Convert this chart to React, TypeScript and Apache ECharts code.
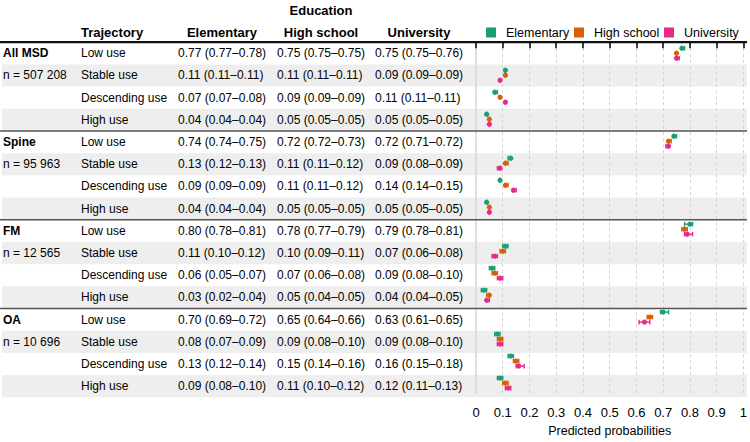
import React, { useEffect, useRef } from "react";
import * as echarts from "echarts";

// Row labels of the table
const groups = ["All MSD", "Spine", "FM", "OA"];
const groupSizes = ["n = 507 208", "n = 95 963", "n = 12 565", "n = 10 696"];
const trajectories = ["Low use", "Stable use", "Descending use", "High use"];
const educationLevels = ["Elementary", "High school", "University"];

// Predicted probabilities with 95% CI, rows ordered group by group, trajectory by trajectory
const elementaryEst = [0.77, 0.11, 0.07, 0.04, 0.74, 0.13, 0.09, 0.04, 0.8, 0.11, 0.06, 0.03, 0.7, 0.08, 0.13, 0.09];
const elementaryLo = [0.77, 0.11, 0.07, 0.04, 0.74, 0.12, 0.09, 0.04, 0.78, 0.1, 0.05, 0.02, 0.69, 0.07, 0.12, 0.08];
const elementaryHi = [0.78, 0.11, 0.08, 0.04, 0.75, 0.13, 0.09, 0.04, 0.81, 0.12, 0.07, 0.04, 0.72, 0.09, 0.14, 0.1];

const highSchoolEst = [0.75, 0.11, 0.09, 0.05, 0.72, 0.11, 0.11, 0.05, 0.78, 0.1, 0.07, 0.05, 0.65, 0.09, 0.15, 0.11];
const highSchoolLo = [0.75, 0.11, 0.09, 0.05, 0.72, 0.11, 0.11, 0.05, 0.77, 0.09, 0.06, 0.04, 0.64, 0.08, 0.14, 0.1];
const highSchoolHi = [0.75, 0.11, 0.09, 0.05, 0.73, 0.12, 0.12, 0.05, 0.79, 0.11, 0.08, 0.05, 0.66, 0.1, 0.16, 0.12];

const universityEst = [0.75, 0.09, 0.11, 0.05, 0.72, 0.09, 0.14, 0.05, 0.79, 0.07, 0.09, 0.04, 0.63, 0.09, 0.16, 0.12];
const universityLo = [0.75, 0.09, 0.11, 0.05, 0.71, 0.08, 0.14, 0.05, 0.78, 0.06, 0.08, 0.04, 0.61, 0.08, 0.15, 0.11];
const universityHi = [0.76, 0.09, 0.11, 0.05, 0.72, 0.09, 0.15, 0.05, 0.81, 0.08, 0.1, 0.05, 0.65, 0.1, 0.18, 0.13];

const xAxisTitle = "Predicted probabilities";

const estimates = [
  { est: elementaryEst, lo: elementaryLo, hi: elementaryHi },
  { est: highSchoolEst, lo: highSchoolLo, hi: highSchoolHi },
  { est: universityEst, lo: universityLo, hi: universityHi },
];

const COLORS = ["#1b9e77", "#d95f02", "#e7298a"];
const FONT = "Liberation Sans, Arial, Helvetica, sans-serif";
const W = 750;
const H = 442;
const TOP = 42.2;
const BOTTOM = 44.7;
const ROWS = groups.length * trajectories.length;

const fmt = (v: number) => v.toFixed(2);
const cellText = (k: number, i: number) =>
  `${fmt(estimates[k].est[i])} (${fmt(estimates[k].lo[i])}–${fmt(estimates[k].hi[i])})`;

// x positions of the table columns
const COL_GROUP = 3;
const COL_TRAJ = 81;
const COL_VALUES = [178, 277, 375];
const COL_VALUE_CENTERS = [222, 321, 419];
// x positions of the legend entries
const LEGEND_X = [486, 574, 664];

export default function App() {
  const ref = useRef<HTMLDivElement>(null);

  useEffect(() => {
    if (!ref.current) return;
    const chart = echarts.init(ref.current, undefined, { renderer: "svg" });

    const rowIdx = Array.from({ length: ROWS }, (_, i) => [i]);

    const bandSeries = {
      type: "custom",
      name: "bands",
      xAxisIndex: 0,
      yAxisIndex: 0,
      z: -1,
      silent: true,
      data: rowIdx,
      renderItem: (params: any, api: any) => {
        const row = api.value(0) as number;
        if (row % 2 === 0) return { type: "group", children: [] };
        const y0 = api.coord([0, row])[1];
        const y1 = api.coord([0, row + 1])[1];
        return {
          type: "rect",
          shape: { x: 2, y: y0, width: 745, height: y1 - y0 },
          style: { fill: "#eeeeee" },
        };
      },
    };

    const tableSeries = {
      type: "custom",
      name: "table",
      xAxisIndex: 0,
      yAxisIndex: 0,
      z: 3,
      silent: true,
      data: rowIdx,
      renderItem: (params: any, api: any) => {
        const row = api.value(0) as number;
        const g = Math.floor(row / trajectories.length);
        const t = row % trajectories.length;
        const yc = api.coord([0, row + 0.5])[1];
        const yTop = api.coord([0, row])[1];
        const children: any[] = [];
        const txt = (x: number, text: string, bold = false) => ({
          type: "text",
          x,
          y: yc,
          style: {
            text,
            fill: "#000",
            fontSize: 12,
            fontFamily: FONT,
            fontWeight: bold ? "bold" : "normal",
            align: "left",
            verticalAlign: "middle",
          },
        });
        if (t === 0) children.push(txt(COL_GROUP, groups[g], true));
        if (t === 1) children.push(txt(COL_GROUP, groupSizes[g]));
        children.push(txt(COL_TRAJ, trajectories[t]));
        for (let k = 0; k < 3; k++) children.push(txt(COL_VALUES[k], cellText(k, row)));
        if (t === 0) {
          children.push({
            type: "line",
            shape: { x1: 0, y1: yTop, x2: 747, y2: yTop },
            style: { stroke: row === 0 ? "#111" : "#555", lineWidth: row === 0 ? 2.2 : 1.6 },
          });
        }
        return { type: "group", children };
      },
    };

    const offsets = [-5, 0, 5];
    const ciSeries = educationLevels.map((name, k) => ({
      type: "custom",
      name,
      xAxisIndex: 1,
      yAxisIndex: 1,
      z: 4 + k,
      itemStyle: { color: COLORS[k] },
      encode: { x: [0, 1, 2], y: 3 },
      data: estimates[k].est.map((e, i) => [e, estimates[k].lo[i], estimates[k].hi[i], i]),
      renderItem: (params: any, api: any) => {
        const row = api.value(3) as number;
        const yc = api.coord([0, row + 0.5])[1] + offsets[k];
        const xE = api.coord([api.value(0), row + 0.5])[0];
        const xL = api.coord([api.value(1), row + 0.5])[0];
        const xH = api.coord([api.value(2), row + 0.5])[0];
        const stroke = { stroke: COLORS[k], lineWidth: 1.4 };
        const cap = 2.3;
        return {
          type: "group",
          children: [
            { type: "line", shape: { x1: xL, y1: yc, x2: xH, y2: yc }, style: stroke },
            { type: "line", shape: { x1: xL, y1: yc - cap, x2: xL, y2: yc + cap }, style: stroke },
            { type: "line", shape: { x1: xH, y1: yc - cap, x2: xH, y2: yc + cap }, style: stroke },
            { type: "circle", shape: { cx: xE, cy: yc, r: 2.6 }, style: { fill: COLORS[k] } },
          ],
        };
      },
    }));

    const headerText = (x: number, y: number, text: string, align = "left") => ({
      type: "text",
      x,
      y,
      style: {
        text,
        fill: "#000",
        fontSize: 13,
        fontWeight: "bold",
        fontFamily: FONT,
        align,
        verticalAlign: "middle",
        textAlign: align,
        textVerticalAlign: "middle",
      },
    });

    chart.setOption({
      animation: false,
      textStyle: { fontFamily: FONT },
      grid: [
        { left: 0, right: 0, top: TOP, bottom: BOTTOM },
        { left: 476, right: 6, top: TOP, bottom: BOTTOM },
      ],
      xAxis: [
        { gridIndex: 0, type: "value", min: 0, max: W, show: false },
        {
          gridIndex: 1,
          type: "value",
          min: 0,
          max: 1,
          interval: 0.1,
          name: xAxisTitle,
          nameLocation: "middle",
          nameGap: 28,
          nameTextStyle: { fontSize: 12.5, color: "#000", fontFamily: FONT },
          axisLine: { show: true, lineStyle: { color: "#000", width: 1.5 } },
          axisTick: { show: true, length: 6, lineStyle: { color: "#000", width: 1.5 } },
          axisLabel: {
            fontSize: 13,
            color: "#000",
            margin: 12,
            fontFamily: FONT,
            formatter: (v: number) => String(Math.round(v * 10) / 10),
          },
          splitLine: { show: true, lineStyle: { color: "#d4d4d4", width: 1, type: [3, 3] } },
        },
      ],
      yAxis: [
        { gridIndex: 0, type: "value", min: 0, max: ROWS, inverse: true, show: false },
        {
          gridIndex: 1,
          type: "value",
          min: 0,
          max: ROWS,
          inverse: true,
          axisLine: { show: true, lineStyle: { color: "#d9d9d9", width: 1.5 } },
          axisTick: { show: false },
          axisLabel: { show: false },
          splitLine: { show: false },
        },
      ],
      legend: educationLevels.map((name, k) => ({
        data: [{ name, icon: "rect" }],
        left: LEGEND_X[k],
        top: 26,
        padding: 0,
        itemWidth: 10,
        itemHeight: 10,
        selectedMode: false,
        textStyle: { fontSize: 12.5, color: "#000", fontFamily: FONT, padding: [0, 0, 0, 5] },
      })),
      graphic: [
        headerText(COL_VALUE_CENTERS[1], 10, "Education", "center"),
        headerText(COL_TRAJ, 32, "Trajectory"),
        ...educationLevels.map((name, k) => headerText(COL_VALUE_CENTERS[k], 32, name, "center")),
      ],
      series: [bandSeries, tableSeries, ...ciSeries],
    });

    return () => chart.dispose();
  }, []);

  return (
    <div
      ref={ref}
      style={{ position: "absolute", left: 0, top: 0, width: W, height: H, background: "#fff" }}
    />
  );
}
